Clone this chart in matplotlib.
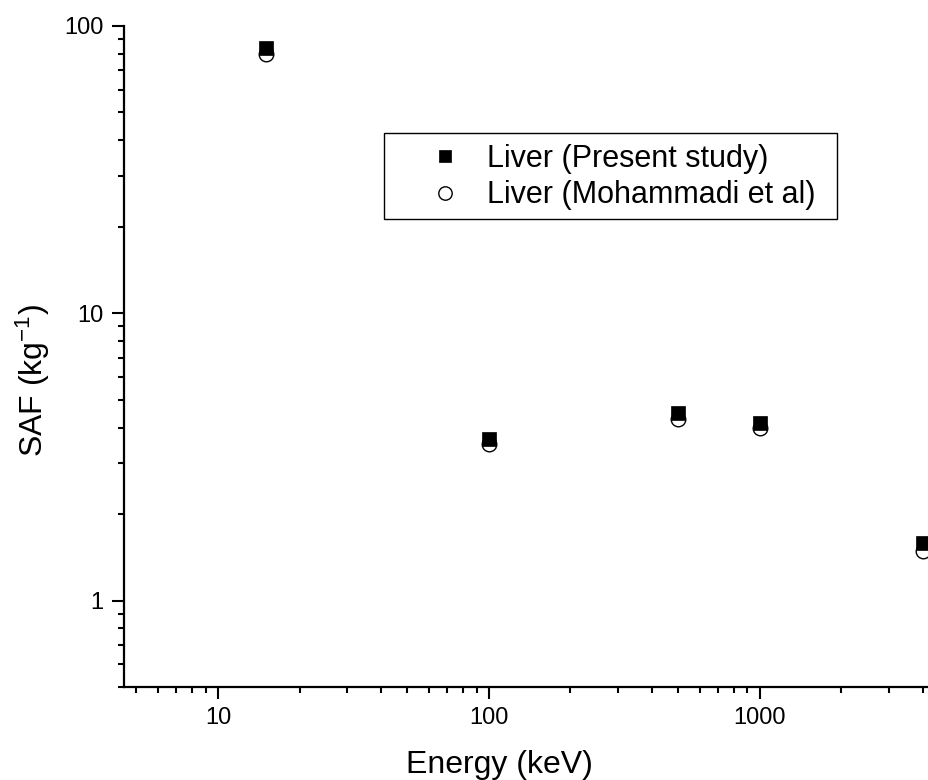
import matplotlib
matplotlib.use("Agg")
import matplotlib.pyplot as plt
from matplotlib.patches import Rectangle
from matplotlib.ticker import LogLocator, NullFormatter, FixedLocator, FixedFormatter

plt.rcParams['font.family'] = ['Liberation Sans', 'DejaVu Sans']
plt.rcParams['mathtext.fontset'] = 'custom'
plt.rcParams['mathtext.rm'] = 'Liberation Sans'
plt.rcParams['mathtext.it'] = 'Liberation Sans'

energy = [15, 100, 500, 1000, 4000]
saf_present = [84, 3.65, 4.48, 4.14, 1.58]
saf_mohammadi = [80, 3.52, 4.28, 3.98, 1.49]

W, H = 929, 780
fig = plt.figure(figsize=(W / 100, H / 100), dpi=100)
L, R, T, B = 124, 929, 26, 687
ax = fig.add_axes([L / W, 1 - B / H, (R - L) / W, (B - T) / H])

ax.plot(energy, saf_mohammadi, 'o', ms=10.5, mfc='white', mec='black', mew=1.0,
        label='Liver (Mohammadi et al)', zorder=3, clip_on=False)
ax.plot(energy, saf_present, 's', ms=10, mfc='black', mec='black', mew=0.5,
        label='Liver (Present study)', zorder=4, clip_on=False)

ax.set_xscale('log')
ax.set_yscale('log')
ax.set_xlim(4.5, 4210)
ax.set_ylim(0.5, 100)

ax.xaxis.set_major_locator(FixedLocator([10, 100, 1000]))
ax.xaxis.set_major_formatter(FixedFormatter(['10', '100', '1000']))
ax.xaxis.set_minor_locator(LogLocator(base=10, subs=range(2, 10), numticks=20))
ax.xaxis.set_minor_formatter(NullFormatter())
ax.yaxis.set_major_locator(FixedLocator([1, 10, 100]))
ax.yaxis.set_major_formatter(FixedFormatter(['1', '10', '100']))
ax.yaxis.set_minor_locator(LogLocator(base=10, subs=range(2, 10), numticks=20))
ax.yaxis.set_minor_formatter(NullFormatter())

for s in ['top', 'right']:
    ax.spines[s].set_visible(False)
for s in ['left', 'bottom']:
    ax.spines[s].set_linewidth(1.6)

ax.tick_params(which='major', direction='out', length=8.5, width=1.5, labelsize=17, pad=6)
ax.tick_params(which='minor', direction='out', length=4.5, width=1.5)

ax.set_xlabel('Energy (keV)', fontsize=23)
ax.set_ylabel('SAF (kg$^{-1}$)', fontsize=23)
ax.xaxis.set_label_coords((499 - L) / (R - L), -(765 - B) / (B - T), transform=ax.transAxes)
ax.xaxis.label.set_va('center')
ax.yaxis.set_label_coords(-(124 - 33) / (R - L), (B - 380) / (B - T), transform=ax.transAxes)
ax.yaxis.label.set_va('center')

# legend frame (Origin-style box)
box_l, box_r, box_t, box_b = 384, 837, 133, 219
ax.add_patch(Rectangle(((box_l - L) / (R - L), (B - box_b) / (B - T)),
                       (box_r - box_l) / (R - L), (box_b - box_t) / (B - T),
                       transform=ax.transAxes, fill=True, facecolor='white',
                       edgecolor='black', linewidth=1.0, zorder=5))

handles, labels = ax.get_legend_handles_labels()
leg = ax.legend(handles[::-1], labels[::-1], loc='center left',
                bbox_to_anchor=((414 - L) / (R - L), (B - 177) / (B - T)),
                borderaxespad=0, borderpad=0, fontsize=22, frameon=False,
                markerscale=0.92, handlelength=2.0, handletextpad=0.38,
                labelspacing=0.22)
leg.set_zorder(6)

fig.savefig('out.png', dpi=100)
